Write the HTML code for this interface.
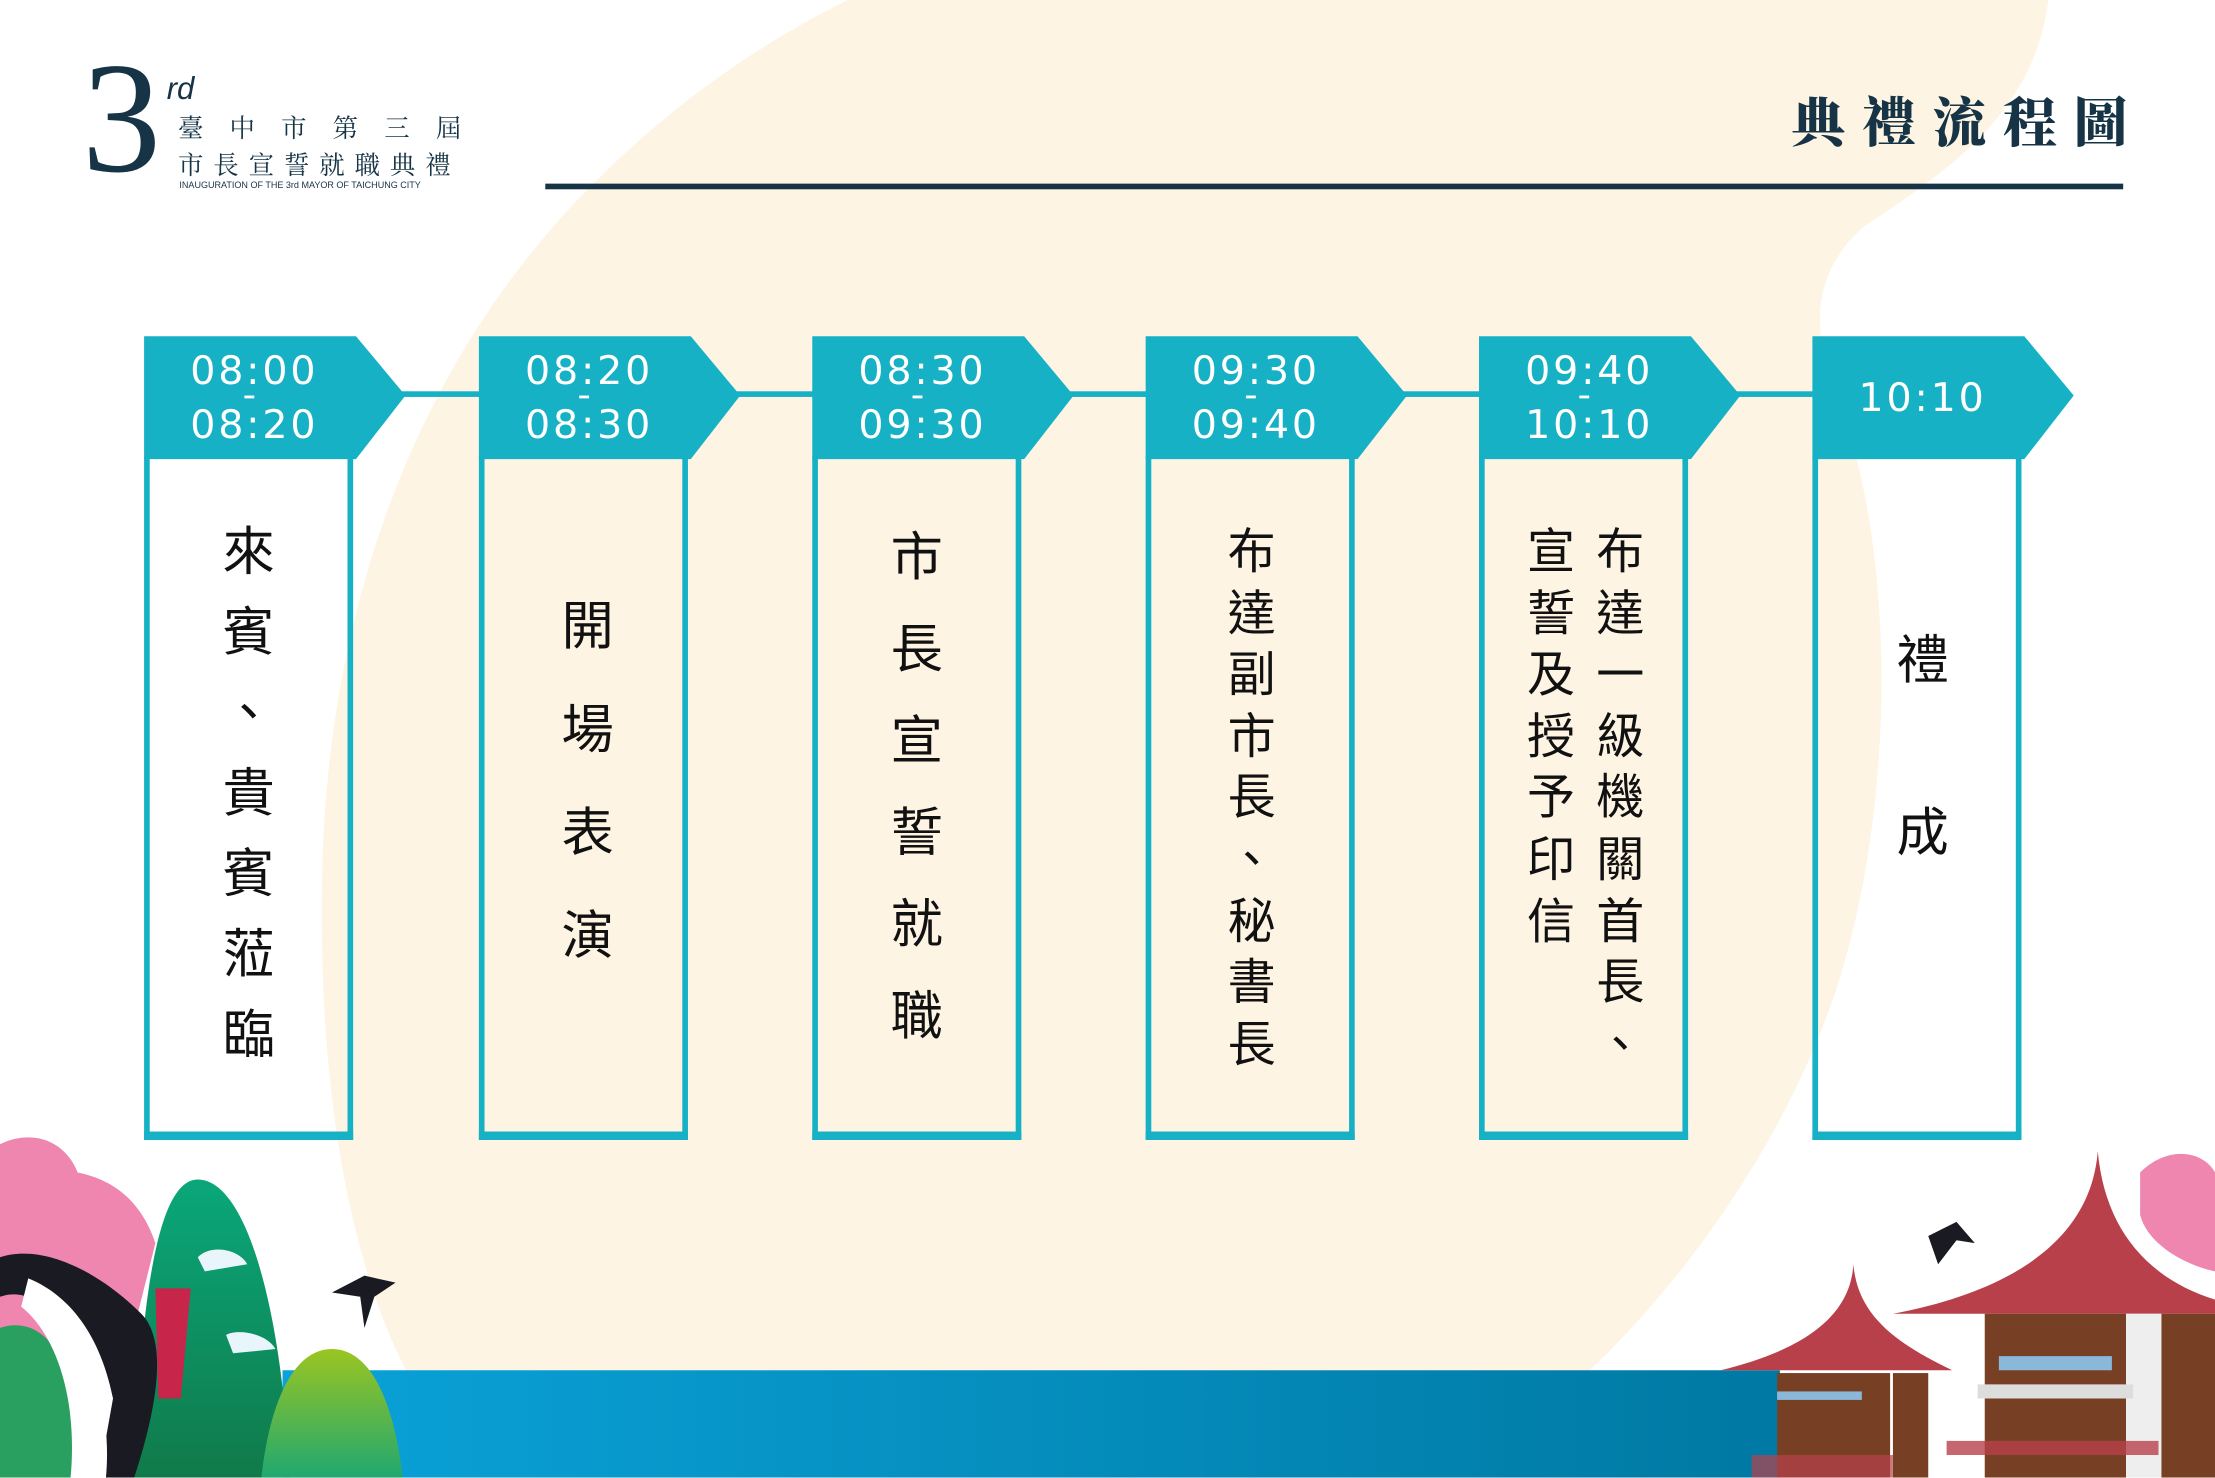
<!DOCTYPE html>
<html><head><meta charset="utf-8">
<style>
html,body{margin:0;padding:0;width:2215px;height:1477px;overflow:hidden;background:#fff}
#w{position:absolute;left:0;top:0;width:1568px;height:1046px;transform:scale(1.41263);transform-origin:0 0;font-family:"Liberation Sans","Noto Sans CJK TC",sans-serif}
.abs{position:absolute}
.t{position:absolute;color:#fff;font-family:"DejaVu Sans","Liberation Sans",sans-serif;font-weight:400;font-size:28px;letter-spacing:2px;text-align:center;width:150px}
.v{position:absolute;width:44px;text-align:center;color:#111;font-family:"Noto Sans CJK TC",sans-serif;font-weight:400}
.body{position:absolute;top:323px;width:140px;height:478px;border:4px solid #17b1c6;border-top:none;border-bottom:6px solid #17b1c6}
</style></head><body>
<div id="w">
<svg class="abs" style="left:0;top:0" width="1568" height="1046" viewBox="0 0 1568 1046">
  <defs>
    <linearGradient id="sea" x1="0" x2="1"><stop offset="0" stop-color="#0aa2d8"/><stop offset="1" stop-color="#0079a3"/></linearGradient>
    <linearGradient id="g1" x1="0" y1="0" x2="0" y2="1"><stop offset="0" stop-color="#0aa77a"/><stop offset="1" stop-color="#107a4a"/></linearGradient>
    <linearGradient id="g2" x1="0" y1="0" x2="0" y2="1"><stop offset="0" stop-color="#9bc521"/><stop offset="1" stop-color="#20a870"/></linearGradient>
  </defs>
  <path d="M600 0 L1450 0 C1440 80 1380 120 1320 160 C1285 190 1280 230 1300 280 C1340 380 1345 560 1300 700 C1260 820 1180 920 1120 975 L290 975 C250 900 225 780 228 620 C232 420 300 250 420 130 C480 70 540 30 600 0 Z" fill="#fdf4e3"/>
  <rect x="200" y="970" width="1060" height="76" fill="url(#sea)"/>
  <path d="M0 810 C20 800 45 805 55 830 C80 835 100 850 110 880 L90 960 L0 960 Z" fill="#ee86b0"/>
  <path d="M140 835 C115 835 100 900 95 1046 L205 1046 C200 930 175 835 140 835 Z" fill="url(#g1)"/>
  <path d="M235 955 C205 955 190 1000 185 1046 L285 1046 C280 1000 265 955 235 955 Z" fill="url(#g2)"/>
  <path d="M0 940 C30 930 60 960 50 1046 L0 1046 Z" fill="#2aa060"/>
  <path d="M0 890 C30 880 70 900 100 930 C120 950 110 1000 95 1046 L75 1046 C80 990 60 950 30 925 C20 915 8 915 0 918 Z" fill="#1a1a22"/>
  <path d="M20 905 C45 915 70 940 80 990 L70 1046 L50 1046 C55 990 40 945 15 925 Z" fill="#fff"/>
  <path d="M110 912 L135 912 L128 990 L112 990 Z" fill="#c8254a"/>
  <path d="M140 890 C150 880 170 885 175 895 L145 900 Z M160 945 C170 940 190 945 195 955 L165 958 Z" fill="#e8f6fb"/>
  <path d="M235 915 L258 903 L280 908 L265 918 L258 940 L255 918 Z" fill="#1a1a22"/>
  <path d="M1515 830 C1535 810 1560 815 1568 830 L1568 900 C1545 895 1520 880 1515 860 Z" fill="#ee86b0"/>
  <path d="M1485 815 C1480 880 1420 915 1340 930 L1568 930 L1568 920 C1520 905 1490 870 1485 815 Z" fill="#b8404a"/>
  <rect x="1405" y="930" width="100" height="116" fill="#774025"/>
  <rect x="1530" y="930" width="38" height="116" fill="#774025"/>
  <rect x="1505" y="930" width="25" height="116" fill="#eee"/>
  <rect x="1400" y="980" width="110" height="10" fill="#ddd"/>
  <rect x="1378" y="1020" width="150" height="10" fill="#b8404a" opacity=".8"/>
  <path d="M1312 895 C1310 930 1280 955 1218 970 L1382 970 C1340 950 1315 930 1312 895 Z" fill="#b8404a"/>
  <rect x="1258" y="972" width="80" height="74" fill="#774025"/>
  <rect x="1340" y="972" width="25" height="74" fill="#774025"/>
  <rect x="1258" y="985" width="60" height="6" fill="#8ab8d8"/>
  <rect x="1415" y="960" width="80" height="10" fill="#8ab8d8"/>
  <rect x="1240" y="1030" width="100" height="16" fill="#b8404a" opacity=".7"/>
  <path d="M1365 875 L1385 865 L1398 880 L1385 878 L1372 895 Z" fill="#1a1a22"/>
  <rect x="386" y="130" width="1117" height="4" fill="#163446"/>
</svg>

<div class="abs" style="left:58px;top:28px;font-family:'Liberation Serif',serif;font-size:112px;line-height:112px;color:#163446;font-weight:300">3</div>
<div class="abs" style="left:118px;top:50px;font-family:'Liberation Sans',sans-serif;font-style:italic;font-size:22px;color:#163446">rd</div>
<div class="abs" style="left:126px;top:79px;font-family:'Noto Serif CJK SC','Noto Sans CJK TC',serif;font-size:18px;letter-spacing:18.5px;color:#163446;line-height:22px">臺中市第三屆</div>
<div class="abs" style="left:126px;top:105px;font-family:'Noto Serif CJK SC','Noto Sans CJK TC',serif;font-size:18px;letter-spacing:7px;color:#163446;line-height:22px">市長宣誓就職典禮</div>
<div class="abs" style="left:127px;top:128px;font-size:6.4px;color:#163446;white-space:nowrap">INAUGURATION OF THE 3rd MAYOR OF TAICHUNG CITY</div>

<div class="abs" style="left:1268px;top:60px;font-family:'Noto Serif CJK SC','Noto Sans CJK TC',serif;font-weight:900;font-size:38px;letter-spacing:12px;color:#163446;line-height:48px;white-space:nowrap">典禮流程圖</div>

<svg class="abs" style="left:0;top:0" width="1568" height="1046">
  <g fill="#17b1c6">
    <rect x="280" y="277" width="1010" height="4"/>
    <polygon points="102,238 252,238 287,280 252,325 102,325"/>
    <polygon points="339,238 489,238 524,280 489,325 339,325"/>
    <polygon points="575,238 725,238 760,280 725,325 575,325"/>
    <polygon points="811,238 961,238 996,280 961,325 811,325"/>
    <polygon points="1047,238 1197,238 1232,280 1197,325 1047,325"/>
    <polygon points="1283,238 1433,238 1468,280 1433,325 1283,325"/>
  </g>
</svg>
<div class="body" style="left:102px"></div>
<div class="body" style="left:339px"></div>
<div class="body" style="left:575px"></div>
<div class="body" style="left:811px"></div>
<div class="body" style="left:1047px"></div>
<div class="body" style="left:1283px"></div>

<div class="t" style="left:105px;top:244px;line-height:38px">08:00<br>08:20</div>
<div class="t" style="left:342px;top:244px;line-height:38px">08:20<br>08:30</div>
<div class="t" style="left:578px;top:244px;line-height:38px">08:30<br>09:30</div>
<div class="t" style="left:814px;top:244px;line-height:38px">09:30<br>09:40</div>
<div class="t" style="left:1050px;top:244px;line-height:38px">09:40<br>10:10</div>
<div class="t" style="left:1286px;top:263px;line-height:38px">10:10</div>
<div class="abs" style="left:173px;top:280px;width:7px;height:1.5px;background:#fff"></div>
<div class="abs" style="left:410px;top:280px;width:7px;height:1.5px;background:#fff"></div>
<div class="abs" style="left:646px;top:280px;width:7px;height:1.5px;background:#fff"></div>
<div class="abs" style="left:882px;top:280px;width:7px;height:1.5px;background:#fff"></div>
<div class="abs" style="left:1118px;top:280px;width:7px;height:1.5px;background:#fff"></div>

<div class="v" style="left:154px;top:359px;font-size:37px;line-height:57px">來<br>賓<br>、<br>貴<br>賓<br>蒞<br>臨</div>
<div class="v" style="left:394px;top:404px;font-size:37px;line-height:73px">開<br>場<br>表<br>演</div>
<div class="v" style="left:627px;top:359px;font-size:37px;line-height:65px">市<br>長<br>宣<br>誓<br>就<br>職</div>
<div class="v" style="left:864px;top:366px;font-size:34px;line-height:43.6px">布<br>達<br>副<br>市<br>長<br>、<br>秘<br>書<br>長</div>
<div class="v" style="left:1125px;top:366px;font-size:34px;line-height:43.6px">布<br>達<br>一<br>級<br>機<br>關<br>首<br>長<br>、</div>
<div class="v" style="left:1076px;top:366px;font-size:34px;line-height:43.6px">宣<br>誓<br>及<br>授<br>予<br>印<br>信</div>
<div class="v" style="left:1339px;top:403px;font-size:37px;line-height:122px">禮<br>成</div>
</div>
</body></html>
